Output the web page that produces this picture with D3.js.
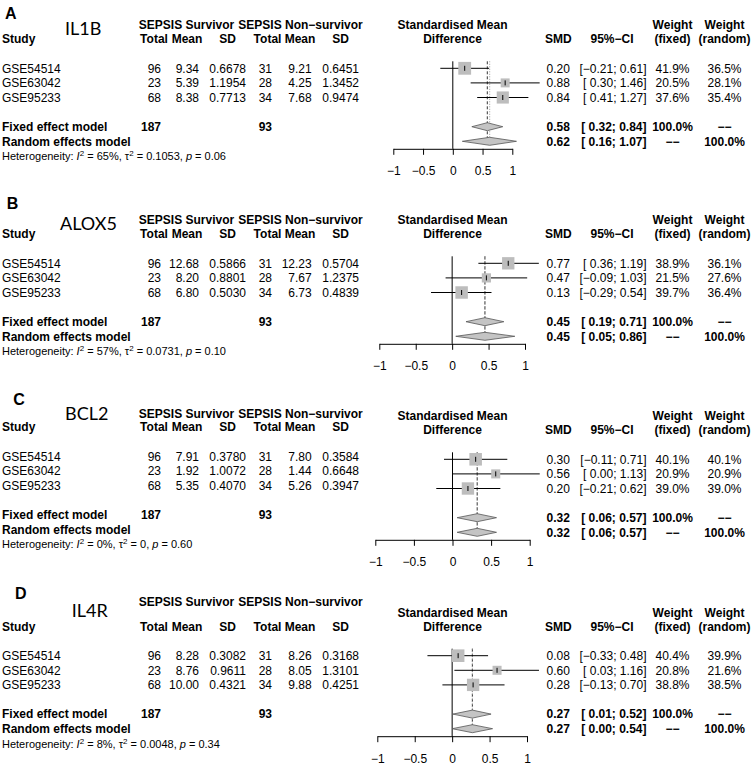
<!DOCTYPE html>
<html><head><meta charset="utf-8">
<script src="https://cdn.jsdelivr.net/npm/d3@7"></script>
<style>
body{margin:0;background:#fff}
svg text{font-family:"Liberation Sans",Arial,sans-serif;white-space:pre;fill:#000}
</style></head><body>
<svg id="chart" width="753" height="765"></svg>
<script>
// ---------------- DATA ----------------
const panels = ["A","B","C","D"];
const genes = ["IL1B","ALOX5","BCL2","IL4R"];
const studies = ["GSE54514","GSE63042","GSE95233"];
const survivorTotal = [96,23,68];
const nonSurvivorTotal = [31,28,34];
const pooledSurvivorTotal = 187;
const pooledNonSurvivorTotal = 93;
const survivorMean = [[9.34,5.39,8.38],[12.68,8.20,6.80],[7.91,1.92,5.35],[8.28,8.76,10.00]];
const survivorSD = [[0.6678,1.1954,0.7713],[0.5866,0.8801,0.5030],[0.3780,1.0072,0.4070],[0.3082,0.9611,0.4321]];
const nonSurvivorMean = [[9.21,4.25,7.68],[12.23,7.67,6.73],[7.80,1.44,5.26],[8.26,8.05,9.88]];
const nonSurvivorSD = [[0.6451,1.3452,0.9474],[0.5704,1.2375,0.4839],[0.3584,0.6648,0.3947],[0.3168,1.3101,0.4251]];
const smd = [[0.20,0.88,0.84],[0.77,0.47,0.13],[0.30,0.56,0.20],[0.08,0.60,0.28]];
const ciLower = [[-0.21,0.30,0.41],[0.36,-0.09,-0.29],[-0.11,0.00,-0.21],[-0.33,0.03,-0.13]];
const ciUpper = [[0.61,1.46,1.27],[1.19,1.03,0.54],[0.71,1.13,0.62],[0.48,1.16,0.70]];
const weightFixed = [[41.9,20.5,37.6],[38.9,21.5,39.7],[40.1,20.9,39.0],[40.4,20.8,38.8]];
const weightRandom = [[36.5,28.1,35.4],[36.1,27.6,36.4],[40.1,20.9,39.0],[39.9,21.6,38.5]];
// [estimate, lower, upper]
const fixedEffect = [[0.58,0.32,0.84],[0.45,0.19,0.71],[0.32,0.06,0.57],[0.27,0.01,0.52]];
const randomEffect = [[0.62,0.16,1.07],[0.45,0.05,0.86],[0.32,0.06,0.57],[0.27,0.00,0.54]];
const hetI2 = ["65%","57%","0%","8%"];
const hetTau2 = ["0.1053","0.0731","0","0.0048"];
const hetP = ["0.06","0.10","0.60","0.34"];
const axisTicks = [-1,-0.5,0,0.5,1];

// ---------------- LAYOUT ----------------
const layout = [
  {row1:68.3,  xr:[393.3,512.3], letterX:5,    letterDy:-49.3, geneX:65,   geneDy:-33.3, leftShift:0,  head1Dy:-39},
  {row1:263.3, xr:[379.3,525],   letterX:6.7,  letterDy:-54.3, geneX:60,   geneDy:-33.3, leftShift:0,  head1Dy:-39.8},
  {row1:459.3, xr:[375.3,529.7], letterX:13.3, letterDy:-54.3, geneX:65,   geneDy:-39.3, leftShift:-3, head1Dy:-41.3},
  {row1:655.7, xr:[377.3,527],   letterX:15,   letterDy:-56.7, geneX:71.7, geneDy:-39,   leftShift:0,  head1Dy:-49.7}
];
const ROWSTEP = 14.6, BASE = 4.2;
const FS = 12, FSB = 12;
const colRight = {sT:161, sM:199, sSD:246, nT:272, nM:311.7, nSD:359};
const colHead = {sT:154, sM:187, sSD:227.5, nT:267.5, nM:300, nSD:340.5};
const grpHead = {s:186.5, n:300.5};
const rc = {smd:558.3, ciRight:646.5, ci:612, wf:672.5, wr:724.5};

const fmt2 = d3.format(".2f"), fmt4 = d3.format(".4f"), fmt1 = d3.format(".1f");
const num2 = v => (v < 0 ? "\u2212" : " ") + fmt2(Math.abs(v));
const ciStr = (lo, hi) => "[" + num2(lo) + "; " + fmt2(hi) + "]";
const sizeScale = d3.scaleSqrt().domain([0,100]).range([0,19.8]);

const svg = d3.select("#chart");

function txt(g, x, y, s, opt={}) {
  return g.append("text").attr("x", x).attr("y", y)
    .attr("text-anchor", opt.anchor || "start")
    .attr("font-size", opt.size || FS)
    .attr("font-weight", opt.bold ? "bold" : null)
    .text(s);
}

panels.forEach((p, k) => {
  const L = layout[k];
  const g = svg.append("g");
  const yRow = d3.scaleLinear().domain([0,1]).range([L.row1, L.row1 + ROWSTEP]);
  const x = d3.scaleLinear().domain([-1,1]).range(L.xr);
  const ls = L.leftShift;
  const axisY = L.row1 + 80.5;
  const head2 = L.row1 - 25;
  const head1R = L.row1 - 39;

  // panel letter & gene label
  txt(g, L.letterX, L.row1 + L.letterDy, p, {bold:true, size:16});
  g.append("text").attr("x", L.geneX).attr("y", L.row1 + L.geneDy)
    .attr("font-size", 18).style("font-family", "Lato, 'Open Sans', sans-serif").text(genes[k]);

  // left headers
  txt(g, grpHead.s, L.row1 + L.head1Dy, "SEPSIS Survivor", {bold:true, anchor:"middle", size:FSB});
  txt(g, grpHead.n, L.row1 + L.head1Dy, "SEPSIS Non\u2212survivor", {bold:true, anchor:"middle", size:FSB});
  txt(g, 2, head2 + ls, "Study", {bold:true, size:FSB});
  [["sT","Total"],["sM","Mean"],["sSD","SD"],["nT","Total"],["nM","Mean"],["nSD","SD"]].forEach(([c,l]) =>
    txt(g, colHead[c], head2 + ls, l, {bold:true, anchor:"middle", size:FSB}));

  // right headers
  txt(g, 452.5, head1R, "Standardised Mean", {bold:true, anchor:"middle", size:FSB});
  txt(g, 452.5, head2, "Difference", {bold:true, anchor:"middle", size:FSB});
  txt(g, rc.smd, head2, "SMD", {bold:true, anchor:"middle", size:FSB});
  txt(g, rc.ci, head2, "95%\u2212CI", {bold:true, anchor:"middle", size:FSB});
  txt(g, rc.wf, head1R, "Weight", {bold:true, anchor:"middle", size:FSB});
  txt(g, rc.wf, head2, "(fixed)", {bold:true, anchor:"middle", size:FSB});
  txt(g, rc.wr, head1R, "Weight", {bold:true, anchor:"middle", size:FSB});
  txt(g, rc.wr, head2, "(random)", {bold:true, anchor:"middle", size:FSB});

  // study rows
  studies.forEach((s, i) => {
    const yb = yRow(i) + BASE;
    txt(g, 2, yb + ls, s);
    txt(g, colRight.sT, yb + ls, String(survivorTotal[i]), {anchor:"end"});
    txt(g, colRight.sM, yb + ls, fmt2(survivorMean[k][i]), {anchor:"end"});
    txt(g, colRight.sSD, yb + ls, fmt4(survivorSD[k][i]), {anchor:"end"});
    txt(g, colRight.nT, yb + ls, String(nonSurvivorTotal[i]), {anchor:"end"});
    txt(g, colRight.nM, yb + ls, fmt2(nonSurvivorMean[k][i]), {anchor:"end"});
    txt(g, colRight.nSD, yb + ls, fmt4(nonSurvivorSD[k][i]), {anchor:"end"});
    txt(g, rc.smd, yb, fmt2(smd[k][i]), {anchor:"middle"});
    txt(g, rc.ciRight, yb, ciStr(ciLower[k][i], ciUpper[k][i]), {anchor:"end"});
    txt(g, rc.wf, yb, fmt1(weightFixed[k][i]) + "%", {anchor:"middle"});
    txt(g, rc.wr, yb, fmt1(weightRandom[k][i]) + "%", {anchor:"middle"});
  });

  // pooled rows
  const yF = yRow(4), yR = yRow(5);
  txt(g, 2, yF + BASE + ls, "Fixed effect model", {bold:true, size:FSB});
  txt(g, colRight.sT, yF + BASE + ls, String(pooledSurvivorTotal), {bold:true, anchor:"end", size:FSB});
  txt(g, colRight.nT, yF + BASE + ls, String(pooledNonSurvivorTotal), {bold:true, anchor:"end", size:FSB});
  txt(g, 2, yR + BASE + ls, "Random effects model", {bold:true, size:FSB});
  txt(g, rc.smd, yF + BASE, fmt2(fixedEffect[k][0]), {bold:true, anchor:"middle", size:FSB});
  txt(g, rc.ciRight, yF + BASE, ciStr(fixedEffect[k][1], fixedEffect[k][2]), {bold:true, anchor:"end", size:FSB});
  txt(g, rc.wf, yF + BASE, "100.0%", {bold:true, anchor:"middle", size:FSB});
  txt(g, rc.wr, yF + BASE, "\u2212\u2212", {bold:true, anchor:"middle", size:FSB});
  txt(g, rc.smd, yR + BASE, fmt2(randomEffect[k][0]), {bold:true, anchor:"middle", size:FSB});
  txt(g, rc.ciRight, yR + BASE, ciStr(randomEffect[k][1], randomEffect[k][2]), {bold:true, anchor:"end", size:FSB});
  txt(g, rc.wf, yR + BASE, "\u2212\u2212", {bold:true, anchor:"middle", size:FSB});
  txt(g, rc.wr, yR + BASE, "100.0%", {bold:true, anchor:"middle", size:FSB});

  // heterogeneity
  const ht = g.append("text").attr("x", 2).attr("y", L.row1 + 92 + ls).attr("font-size", 11);
  ht.append("tspan").text("Heterogeneity: ");
  ht.append("tspan").attr("font-style","italic").text("I");
  ht.append("tspan").attr("dy",-4).attr("font-size",8).text("2");
  ht.append("tspan").attr("dy",4).text(" = " + hetI2[k] + ", \u03c4");
  ht.append("tspan").attr("dy",-4).attr("font-size",8).text("2");
  ht.append("tspan").attr("dy",4).text(" = " + hetTau2[k] + ", ");
  ht.append("tspan").attr("font-style","italic").text("p");
  ht.append("tspan").text(" = " + hetP[k]);

  // forest plot
  const top = L.row1 - 7;
  g.append("line").attr("x1", x(0)).attr("x2", x(0)).attr("y1", top).attr("y2", axisY)
    .attr("stroke", "#000").attr("stroke-width", 1);
  g.append("line").attr("x1", x(fixedEffect[k][0])).attr("x2", x(fixedEffect[k][0]))
    .attr("y1", top).attr("y2", axisY - 3).attr("stroke", "#000").attr("stroke-width", 0.8)
    .attr("stroke-dasharray", "3,2");
  g.append("line").attr("x1", x(randomEffect[k][0])).attr("x2", x(randomEffect[k][0]))
    .attr("y1", top).attr("y2", axisY - 3).attr("stroke", "#999").attr("stroke-width", 1)
    .attr("stroke-dasharray", "1,1.5");

  studies.forEach((s, i) => {
    const yc = yRow(i);
    g.append("line").attr("x1", x(ciLower[k][i])).attr("x2", x(ciUpper[k][i]))
      .attr("y1", yc).attr("y2", yc).attr("stroke", "#000").attr("stroke-width", 1);
    const side = sizeScale(weightFixed[k][i]);
    g.append("rect").attr("x", x(smd[k][i]) - side/2).attr("y", yc - side/2)
      .attr("width", side).attr("height", side).attr("fill", "#bdbdbd");
    g.append("line").attr("x1", x(smd[k][i])).attr("x2", x(smd[k][i]))
      .attr("y1", yc - 2.5).attr("y2", yc + 2.5).attr("stroke", "#000").attr("stroke-width", 1);
  });

  [[fixedEffect[k], yF],[randomEffect[k], yR]].forEach(([e, yc]) => {
    const pts = [[x(e[1]), yc],[x(e[0]), yc - 4],[x(e[2]), yc],[x(e[0]), yc + 4]];
    g.append("polygon").attr("points", pts.map(q => q.join(",")).join(" "))
      .attr("fill", "#c4c4c4").attr("stroke", "#555").attr("stroke-width", 0.8);
  });

  const ax = g.append("g").attr("transform", `translate(0,${axisY})`)
    .call(d3.axisBottom(x).tickValues(axisTicks).tickSize(6).tickSizeOuter(0).tickPadding(12)
      .tickFormat(d3.format("~g")));
  ax.selectAll("text").attr("font-size", 12).style("font-family", "'Liberation Sans', Arial, sans-serif");
  ax.attr("font-size", 12);
});
</script>
</body></html>
